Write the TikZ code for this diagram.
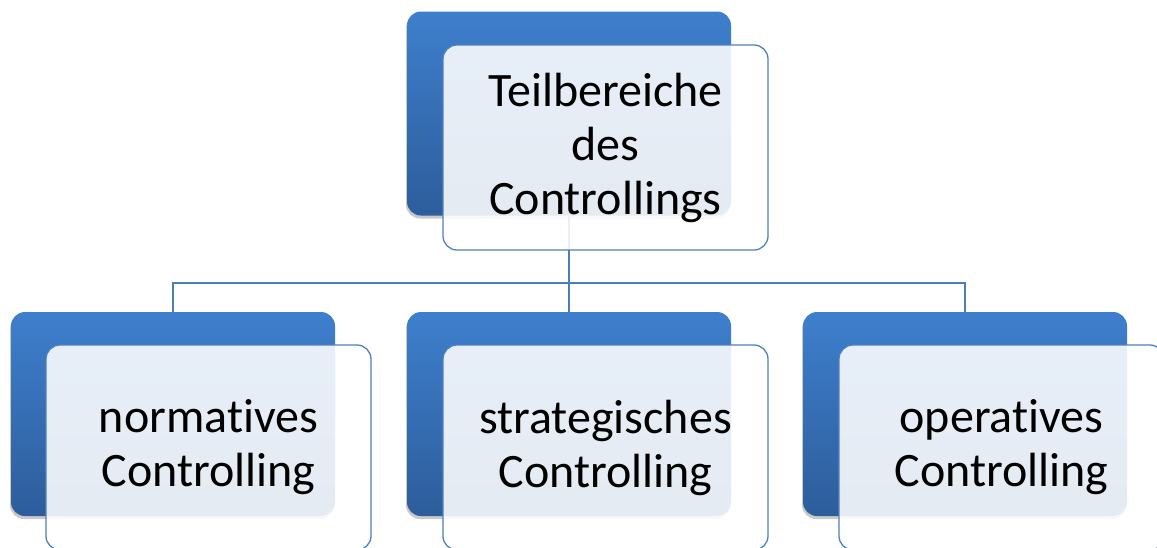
\documentclass[tikz,border=0pt]{standalone}
\usepackage{fontspec}
\setmainfont[Ligatures=NoCommon]{Carlito}
\usetikzlibrary{shadows}
\definecolor{bluetop}{HTML}{3E7FCD}
\definecolor{bluebot}{HTML}{2D5D9B}
\definecolor{edgeblue}{HTML}{4F81BD}
\definecolor{linkblue}{HTML}{4A7EBB}
\tikzset{
  backbox/.style={minimum width=324pt, minimum height=204pt, rounded corners=14pt,
    top color=bluetop, bottom color=bluebot, draw=none, inner sep=0pt,
    drop shadow={shadow xshift=-1pt, shadow yshift=-3pt, opacity=0.35, fill=black!60}},
  frontbox/.style={minimum width=325pt, minimum height=205pt, rounded corners=14pt,
    fill=white, fill opacity=0.88, text opacity=1, draw=edgeblue, line width=1.3pt,
    align=center, font=\fontsize{48}{54}\selectfont, inner sep=0pt},
  link/.style={draw=linkblue, line width=1.4pt}
}
\begin{document}
\begin{tikzpicture}[x=1pt,y=-1pt]
\useasboundingbox (0,0) rectangle (1157,547);
\clip (0,0) rectangle (1157,547);
\fill[white] (0,0) rectangle (1157,547);
% back boxes
\node[backbox] (tb) at (569,113.5) {};
\node[backbox] (lb) at (173,414) {};
\node[backbox] (mb) at (569,414) {};
\node[backbox] (rb) at (965,414) {};
% connectors
\coordinate (bus) at (569,283);
\draw[link] (tb.south) -- (bus);
\draw[link] (bus) -| (lb.north);
\draw[link] (bus) -| (rb.north);
\draw[link] (bus) -- (mb.north);
% front boxes
\node[frontbox] (tf) at (605.5,147.5) {Teilbereiche\\des\\Controllings};
\node[frontbox] (lf) at (208.5,447.5) {normatives\\Controlling};
\node[frontbox] (mf) at (605.5,447.5) {strategisches\\Controlling};
\node[frontbox] (rf) at (1001.5,447.5) {operatives\\Controlling};
\end{tikzpicture}
\end{document}
